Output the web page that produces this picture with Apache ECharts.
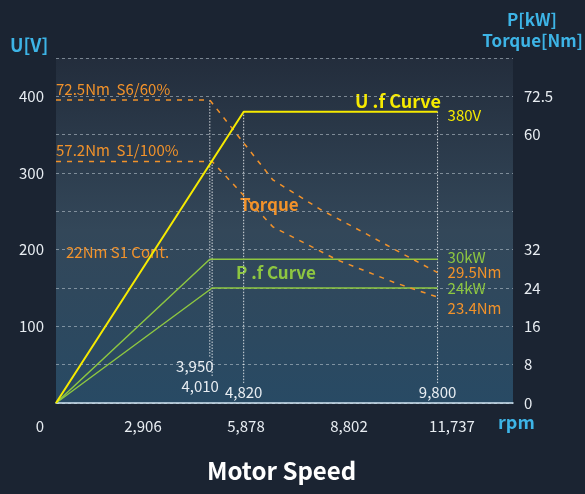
<!DOCTYPE html>
<html style="height: 100%">
<head>
<meta charset="utf-8">
<title>Motor Speed</title>
<script src="https://cdn.jsdelivr.net/npm/echarts@6/dist/echarts.min.js"></script>
</head>
<body style="height: 100%; margin: 0; background: #1b2432">
<div id="container" style="width: 585px; height: 494px"></div>
<script type="text/javascript">

// axis ticks
let rpmMax = 11737
let xTickLabels = ['0', '2,906', '5,878', '8,802', '11,737']
let voltTickLabels = ['', '', '100', '', '200', '', '300', '', '400', '']
let rightTickLabels = ['0', '8', '16', '24', '32', '', '', '60', '72.5', '']

// U.f curve
let voltRpm = [0, 4820, 9800]
let voltV = [0, 380, 380]

// P.f curves (kW)
let p30Rpm = [0, 3950, 9800]
let p30kW = [0, 30, 30]
let p24Rpm = [0, 4010, 9800]
let p24kW = [0, 24, 24]

// torque curves (Nm)
let s6Rpm = [0, 3950, 5572, 6818, 7922, 8862, 9800]
let s6Nm = [72.5, 72.5, 52.6, 45.1, 39.4, 34.4, 29.5]
let s1Rpm = [0, 4010, 5572, 7217, 8698, 9800]
let s1Nm = [57.2, 57.2, 40.9, 32.7, 27.0, 23.4]

// dotted speed markers
let markerRpm = [3950, 4010, 4820, 9800]
let markerTop = [72.5, 57.2, 380, 380]

// layout only: which axis each marker uses, where it stops, label nudge
let markerAxis = [2, 2, 0, 0]
let markerFoot = [8.5, 3.5, 26, 26]
let markerNudge = [[-15, 0], [-12, 0], [0, 0], [0, 0]]

const C = {
    blue: '#3db4e6', yellow: '#f6ea00', green: '#8dc641',
    orange: '#f2922a', text: '#e8edf2', grid: 'rgba(195,205,215,0.55)'
}
const FONT = '"Noto Sans CJK KR", "Noto Sans", sans-serif'

function zip(xs, ys) { return xs.map((x, i) => [x, ys[i]]) }

function endLabel(text, color, dy) {
    return { show: true, formatter: text, color: color, fontSize: 15, fontFamily: FONT,
             distance: 10, offset: [0, dy] }
}

let series = []

series.push({
    type: 'line', yAxisIndex: 0, data: zip(voltRpm, voltV), showSymbol: false, silent: true,
    lineStyle: { color: C.yellow, width: 2 },
    endLabel: endLabel(voltV[2] + 'V', C.yellow, 4), z: 5
})
series.push({
    type: 'line', yAxisIndex: 1, data: zip(p30Rpm, p30kW), showSymbol: false, silent: true,
    lineStyle: { color: C.green, width: 1.5 },
    endLabel: endLabel(p30kW[2] + 'kW', C.green, -2)
})
series.push({
    type: 'line', yAxisIndex: 1, data: zip(p24Rpm, p24kW), showSymbol: false, silent: true,
    lineStyle: { color: C.green, width: 1.5 },
    endLabel: endLabel(p24kW[2] + 'kW', C.green, 0)
})

function torqueSeries(rpm, nm, name, dy) {
    let data = zip(rpm, nm).map((v, i) => {
        let item = { value: v }
        if (i === 0) {
            item.label = { show: true, position: 'top', align: 'left', distance: 3,
                           formatter: nm[0] + 'Nm  ' + name, color: C.orange, fontSize: 15, fontFamily: FONT }
        }
        return item
    })
    return {
        type: 'line', yAxisIndex: 2, data: data, silent: true,
        symbol: 'circle', symbolSize: 1, itemStyle: { color: 'transparent' },
        lineStyle: { color: C.orange, width: 1.5, type: [5, 6] },
        endLabel: endLabel(nm[nm.length - 1] + 'Nm', C.orange, dy)
    }
}
series.push(torqueSeries(s6Rpm, s6Nm, 'S6/60%', 0))
series.push(torqueSeries(s1Rpm, s1Nm, 'S1/100%', 11))

markerRpm.forEach((rpm, i) => {
    series.push({
        type: 'line', yAxisIndex: markerAxis[i], silent: true,
        symbol: 'circle', symbolSize: 1, itemStyle: { color: 'transparent' },
        lineStyle: { color: 'rgba(255,255,255,0.8)', width: 1, type: [1.5, 1.5] },
        data: [
            { value: [rpm, markerTop[i]] },
            { value: [rpm, markerFoot[i]],
              label: { show: true, position: 'bottom', distance: 1, offset: markerNudge[i],
                       formatter: rpm.toLocaleString('en-US'), color: C.text, fontSize: 15, fontFamily: FONT } }
        ],
        z: 1
    })
})

function txt(left, top, text, color, size, bold, extra) {
    return Object.assign({
        type: 'text', left: left, top: top, silent: true,
        style: { text: text, fill: color, font: (bold ? 'bold ' : '') + size + 'px ' + FONT }
    }, extra || {})
}

let option = {
    backgroundColor: '#1b2432',
    animation: false,
    grid: [
        { left: 56, right: 72, top: 58, bottom: 91, show: true, borderWidth: 0,
          backgroundColor: { type: 'linear', x: 0, y: 0, x2: 0, y2: 1,
              colorStops: [{ offset: 0, color: '#232d3c' }, { offset: 0.5, color: '#334759' },
                           { offset: 1, color: '#284a64' }] } },
        { left: 40, right: 133, top: 395, bottom: 89 }
    ],
    xAxis: [
        { gridIndex: 0, type: 'value', min: 0, max: rpmMax,
          axisLine: { show: true, onZero: false, lineStyle: { color: '#d3e8f5', width: 1.5 } },
          axisTick: { show: false }, axisLabel: { show: false }, splitLine: { show: false } },
        { gridIndex: 1, type: 'category', data: xTickLabels, boundaryGap: false,
          axisLine: { show: false }, axisTick: { show: false },
          axisLabel: { interval: 0, margin: 14, color: C.text, fontSize: 15, fontFamily: FONT } }
    ],
    yAxis: [
        { type: 'value', min: 0, max: 450, interval: 50, position: 'left',
          axisLine: { show: false }, axisTick: { show: false },
          axisLabel: { margin: 12, color: C.text, fontSize: 15, fontFamily: FONT,
                       formatter: v => voltTickLabels[Math.round(v / 50)] },
          splitLine: { lineStyle: { color: C.grid, type: [3, 3], width: 1 } } },
        { type: 'value', min: 0, max: 72, interval: 8, position: 'right',
          axisLine: { show: false }, axisTick: { show: false },
          axisLabel: { margin: 11, color: C.text, fontSize: 15, fontFamily: FONT,
                       formatter: v => rightTickLabels[Math.round(v / 8)] },
          splitLine: { show: false } },
        { type: 'value', min: -3, max: 83, show: false, splitLine: { show: false } },
        { gridIndex: 1, type: 'value', show: false }
    ],
    graphic: [
        txt(10, 36, 'U[V]', C.blue, 18, true),
        txt(null, 11, 'P[kW]', C.blue, 17, true, { right: 28 }),
        txt(null, 32, 'Torque[Nm]', C.blue, 17, true, { right: 2 }),
        txt(355, 92, 'U .f Curve', C.yellow, 18, true),
        txt(240, 196, 'Torque', C.orange, 17, true),
        txt(236, 264, 'P .f Curve', C.green, 17, true),
        txt(66, 245, '22Nm S1 Cont.', C.orange, 15, false),
        txt(498, 413, 'rpm', C.blue, 18, true),
        txt(207, 459, 'Motor Speed', '#ffffff', 24, true)
    ],
    series: series
}

let chart = echarts.init(document.getElementById('container'))
chart.setOption(option)

</script>
</body>
</html>
